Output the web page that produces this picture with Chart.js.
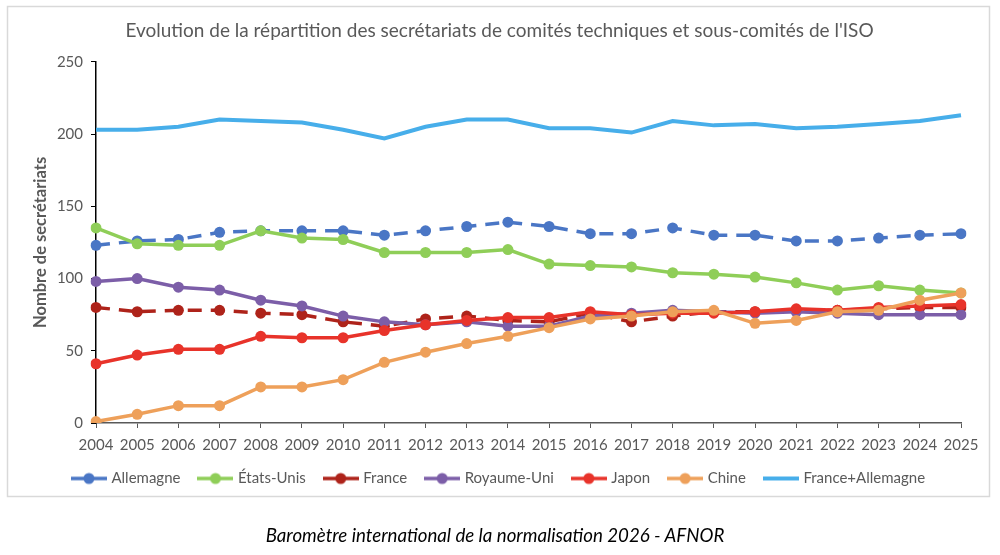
<!DOCTYPE html>
<html lang="fr">
<head>
<meta charset="utf-8">
<title>Secrétariats ISO</title>
<script src="https://cdn.jsdelivr.net/npm/chart.js@4/dist/chart.umd.min.js"></script>
<style>
  html, body { margin: 0; padding: 0; background: #fff; }
  #wrap { position: relative; width: 1000px; height: 555px; }
  #caption {
    position: absolute; left: 0; top: 524px; width: 990px;
    text-align: center; font: italic 18.7px Lato, "Liberation Sans", sans-serif; color: #000;
  }
</style>
</head>
<body>
<div id="wrap">
  <canvas id="chart" width="1000" height="555"></canvas>
  <div id="caption">Baromètre international de la normalisation 2026 - AFNOR</div>
</div>
<script>
// années
const years = ["2004", "2005", "2006", "2007", "2008", "2009", "2010", "2011", "2012", "2013", "2014",
  "2015", "2016", "2017", "2018", "2019", "2020", "2021", "2022", "2023", "2024", "2025"];

// nombre de secrétariats par pays
const allemagne     = [123, 126, 127, 132, 133, 133, 133, 130, 133, 136, 139, 136, 131, 131, 135, 130, 130, 126, 126, 128, 130, 131];
const etatsUnis     = [135, 124, 123, 123, 133, 128, 127, 118, 118, 118, 120, 110, 109, 108, 104, 103, 101, 97, 92, 95, 92, 90];
const france        = [80, 77, 78, 78, 76, 75, 70, 67, 72, 74, 71, 70, 76, 70, 74, 77, 77, 78, 78, 79, 80, 80];
const royaumeUni    = [98, 100, 94, 92, 85, 81, 74, 70, 68, 70, 67, 67, 74, 76, 78, 77, 76, 77, 76, 75, 75, 75];
const japon         = [41, 47, 51, 51, 60, 59, 59, 64, 68, 71, 73, 73, 77, 75, 76, 76, 77, 79, 78, 80, 81, 82];
const chine         = [1, 6, 12, 12, 25, 25, 30, 42, 49, 55, 60, 66, 72, 74, 77, 78, 69, 71, 77, 78, 85, 90];
const franceAllemagne = [203, 203, 205, 210, 209, 208, 203, 197, 205, 210, 210, 204, 204, 201, 209, 206, 207, 204, 205, 207, 209, 213];

const yTicks = [0, 50, 100, 150, 200, 250];

const FONT = "Lato, 'Liberation Sans', sans-serif";
const GREY = "#595959";

// petit symbole de légende : trait + rond
function legendSymbol(color, withDot) {
  const c = document.createElement("canvas");
  c.width = 36; c.height = 14;
  const ctx = c.getContext("2d");
  ctx.strokeStyle = color;
  ctx.lineWidth = withDot ? 3.5 : 4;
  ctx.beginPath();
  ctx.moveTo(0, 7);
  ctx.lineTo(36, 7);
  ctx.stroke();
  if (withDot) {
    ctx.fillStyle = color;
    ctx.beginPath();
    ctx.arc(18, 7, 5.5, 0, Math.PI * 2);
    ctx.fill();
  }
  return c;
}

function serie(label, data, color, dashed, order) {
  return {
    label: label,
    data: data,
    borderColor: color,
    backgroundColor: color,
    borderWidth: 3.5,
    borderDash: dashed ? [14, 9] : [],
    pointRadius: 5.5,
    pointHoverRadius: 5.5,
    pointBackgroundColor: color,
    pointBorderWidth: 0,
    tension: 0,
    order: order,
    legendImg: legendSymbol(color, true)
  };
}

const datasets = [
  serie("Allemagne", allemagne, "#4a76c5", true, 7),
  serie("États-Unis", etatsUnis, "#8fce58", false, 6),
  serie("France", france, "#ae231a", true, 5),
  serie("Royaume-Uni", royaumeUni, "#7c5ea8", false, 4),
  serie("Japon", japon, "#e8332a", false, 3),
  serie("Chine", chine, "#eea05a", false, 2),
  {
    label: "France+Allemagne",
    data: franceAllemagne,
    borderColor: "#47aeea",
    backgroundColor: "#47aeea",
    borderWidth: 4,
    pointRadius: 0,
    tension: 0,
    order: 1,
    legendImg: legendSymbol("#47aeea", false)
  }
];

// cadre gris autour du graphique
const framePlugin = {
  id: "frame",
  beforeDraw(chart) {
    const ctx = chart.ctx;
    ctx.save();
    ctx.fillStyle = "#fff";
    ctx.fillRect(0, 0, chart.width, chart.height);
    ctx.strokeStyle = "#d9d9d9";
    ctx.lineWidth = 1.5;
    ctx.strokeRect(7.5, 6.5, 982, 490);
    ctx.restore();
  }
};

new Chart(document.getElementById("chart"), {
  type: "line",
  data: { labels: years, datasets: datasets },
  plugins: [framePlugin],
  options: {
    responsive: false,
    animation: false,
    layout: { padding: { left: 38, right: 39, top: 0, bottom: 59 } },
    plugins: {
      title: {
        display: true,
        text: "Evolution de la répartition des secrétariats de comités techniques et sous-comités de l'ISO",
        color: GREY,
        font: { family: FONT, size: 19, weight: "normal" },
        padding: { top: 19, bottom: 20 }
      },
      legend: {
        position: "bottom",
        labels: {
          color: GREY,
          font: { family: FONT, size: 15 },
          usePointStyle: true,
          pointStyleWidth: 30,
          boxHeight: 14,
          padding: 20,
          generateLabels(chart) {
            return chart.data.datasets.map((ds, i) => ({
              text: ds.label,
              datasetIndex: i,
              pointStyle: ds.legendImg,
              fontColor: GREY,
              hidden: false,
              lineWidth: 0,
              strokeStyle: ds.borderColor,
              fillStyle: ds.borderColor
            }));
          }
        }
      },
      tooltip: { enabled: false }
    },
    scales: {
      x: {
        offset: false,
        grid: { display: true, drawOnChartArea: false, drawTicks: true, tickLength: 5, color: GREY },
        border: { display: true, color: GREY, width: 1.5 },
        ticks: { color: GREY, font: { family: FONT, size: 15 }, padding: 8, maxRotation: 0, autoSkip: false },
        afterFit(scale) { scale.height = 28; }
      },
      y: {
        min: 0,
        max: 250,
        afterBuildTicks(scale) { scale.ticks = yTicks.map(v => ({ value: v })); },
        grid: { display: true, drawOnChartArea: false, drawTicks: true, tickLength: 5, color: "#000" },
        border: { display: true, color: "#000", width: 1.5 },
        ticks: { color: GREY, font: { family: FONT, size: 15 }, padding: 8 },
        title: {
          display: true,
          text: "Nombre de secrétariats",
          color: GREY,
          font: { family: FONT, size: 16.5, weight: "bold" },
          padding: { top: -7, bottom: 0 }
        },
        afterFit(scale) { scale.width = 58; }
      }
    }
  }
});
</script>
</body>
</html>
